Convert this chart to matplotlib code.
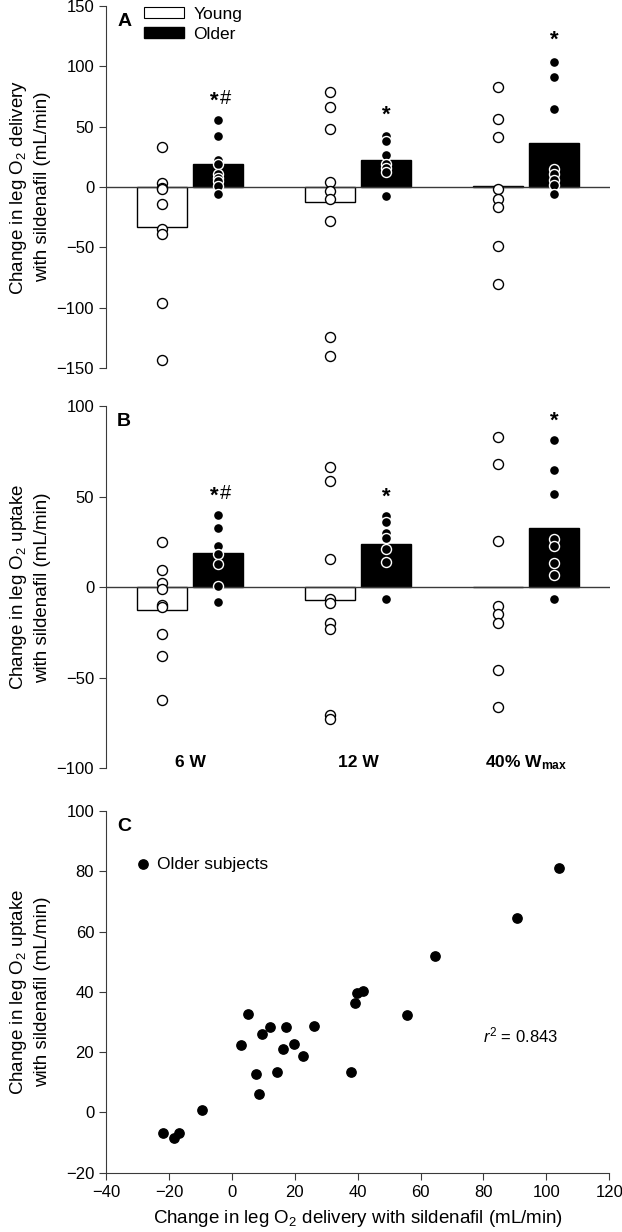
import matplotlib
matplotlib.use("Agg")
import matplotlib.pyplot as plt
from matplotlib.patches import Patch

plt.rcParams['font.family'] = ['Liberation Sans', 'DejaVu Sans']
plt.rcParams['mathtext.fontset'] = 'custom'
plt.rcParams['mathtext.rm'] = 'Liberation Sans'
plt.rcParams['mathtext.it'] = 'Liberation Sans:italic'
plt.rcParams['mathtext.bf'] = 'Liberation Sans:bold'

categories = ["6 W", "12 W", "40% W$_{\\mathbf{max}}$"]

# panel A: change in leg O2 delivery
a_young_bar = [-33, -12.3, 0.8]
a_older_bar = [18.7, 22.8, 36.4]
a_young_pts = [
    [33.3, 3.2, -0.4, -2, -14.2, -34.7, -38.6, -96, -143],
    [78.4, 66.5, 48.2, 4.2, -3.6, -9.9, -28, -124.5, -140],
    [82.5, 56.3, 41.1, -1.5, -10, -16.5, -48.5, -80.3],
]
a_older_pts = [
    [55.5, 42, 22.7, 19.4, 10.5, 7.8, 5, 0.8, -5.5],
    [42, 38, 26.5, 19, 15.8, 12.4, -7.7],
    [104, 90.8, 64.8, 14.6, 10.5, 6, 1.6, -5.5],
]
a_marks = ["*#", "*", "*"]
a_mark_y = [74.3, 63, 125]

# panel B: change in leg O2 uptake
b_young_bar = [-12.3, -7.2, 0.3]
b_older_bar = [19, 23.8, 32.6]
b_young_pts = [
    [25, 9.8, 2.2, -0.9, -9.6, -10.7, -25.6, -38.1, -62],
    [66.7, 58.6, 15.8, -6.4, -8.8, -19.7, -23, -70.7, -72.6],
    [83.2, 68.1, 25.4, -10.1, -14.7, -19.5, -45.9, -66.3],
]
b_older_pts = [
    [40.1, 32.6, 22.7, 18.2, 12.7, 0.9, -8.1],
    [39.6, 35.9, 30, 27.1, 21.4, 13.8, -6.6],
    [81.2, 64.6, 51.7, 26.5, 23, 13.6, 6.6, -6.6],
]
b_marks = ["*#", "*", "*"]
b_mark_y = [52.5, 51.8, 94]

# panel C: older subjects, delivery vs uptake
c_delivery = [-21.8, -18.4, -16.7, -9.4, 2.8, 5.3, 7.7, 8.6, 9.6, 12.2, 14.4, 16.3,
              17.1, 19.7, 22.5, 26.0, 37.8, 39.1, 39.7, 41.8, 55.7, 64.5, 90.8, 103.9]
c_uptake = [-6.7, -8.4, -6.7, 0.7, 22.5, 32.5, 12.7, 6.2, 25.9, 28.4, 13.4, 21.1,
            28.5, 22.7, 18.8, 28.7, 13.5, 36.3, 39.5, 40.3, 32.4, 51.8, 64.6, 81.2]
r2 = 0.843

off = 0.167
bw = 0.30
gray = "#3a3a3a"
lblsize = 13.5
ticksize = 12


def sig_mark(ax, x, y, mark):
    # bold asterisk (nudged down so the glyph sits on y), plain hash next to it
    if mark == "*":
        ax.annotate("*", (x, y), xytext=(0, -3), textcoords="offset points",
                    ha="center", va="center", fontsize=16, fontweight="bold", zorder=4)
    else:
        ax.annotate("*", (x, y), xytext=(0.5, -3), textcoords="offset points",
                    ha="right", va="center", fontsize=16, fontweight="bold", zorder=4)
        ax.annotate("#", (x, y), xytext=(1, -1), textcoords="offset points",
                    ha="left", va="center", fontsize=14.5, zorder=4)


def bar_panel(ax, young_bar, older_bar, young_pts, older_pts, marks, mark_y, ylim, yticks, ylabel, letter):
    xs = range(len(categories))
    ax.bar([i - off for i in xs], young_bar, bw, color="white", edgecolor="black", linewidth=1, zorder=1)
    ax.bar([i + off for i in xs], older_bar, bw, color="black", edgecolor="black", linewidth=1, zorder=1)
    ax.axhline(0, color=gray, lw=1, zorder=2)
    for i in xs:
        ax.scatter([i - off] * len(young_pts[i]), young_pts[i], s=52, facecolor="white",
                   edgecolor="black", linewidth=1.0, zorder=3)
        ax.scatter([i + off] * len(older_pts[i]), older_pts[i], s=52, facecolor="black",
                   edgecolor="white", linewidth=1.0, zorder=3)
        sig_mark(ax, i + off, mark_y[i], marks[i])
    ax.set_xlim(-0.5, 2.5)
    ax.set_ylim(*ylim)
    ax.set_yticks(yticks)
    ax.set_xticks([])
    for s in ["top", "right", "bottom"]:
        ax.spines[s].set_visible(False)
    ax.spines["left"].set_color(gray)
    ax.tick_params(axis="y", direction="out", length=5, color=gray, labelsize=ticksize)
    ax.set_ylabel(ylabel, fontsize=lblsize, linespacing=1.35)
    ax.yaxis.set_label_coords(-0.11, 0.5)
    ax.text(0.022, 0.958, letter, transform=ax.transAxes, fontsize=14, fontweight="bold", va="center")


fig = plt.figure(figsize=(6.22, 12.32), dpi=100)
ax1 = fig.add_axes([0.1704, 0.7013, 0.8103, 0.2938])
ax2 = fig.add_axes([0.1704, 0.3764, 0.8103, 0.2938])
ax3 = fig.add_axes([0.1704, 0.0481, 0.8092, 0.2936])

bar_panel(ax1, a_young_bar, a_older_bar, a_young_pts, a_older_pts, a_marks, a_mark_y,
          (-150, 150), range(-150, 151, 50),
          "Change in leg O$_2$ delivery\nwith sildenafil (mL/min)", "A")
ax1.legend(handles=[Patch(facecolor="white", edgecolor="black", linewidth=0.8, label="Young"),
                    Patch(facecolor="black", edgecolor="black", label="Older")],
           loc="upper left", bbox_to_anchor=(0.075, 0.998), borderaxespad=0, borderpad=0,
           handlelength=2.3, handleheight=0.6, handletextpad=0.55, labelspacing=0.3,
           frameon=False, fontsize=12.5)

bar_panel(ax2, b_young_bar, b_older_bar, b_young_pts, b_older_pts, b_marks, b_mark_y,
          (-100, 100), range(-100, 101, 50),
          "Change in leg O$_2$ uptake\nwith sildenafil (mL/min)", "B")
for i, c in enumerate(categories):
    ax2.text(i, -97, c, ha="center", va="center", fontsize=12.5, fontweight="bold")

# panel C
ax3.scatter(c_delivery, c_uptake, s=45, color="black", label="Older subjects", zorder=3)
ax3.set_xlim(-40, 120)
ax3.set_ylim(-20, 100)
ax3.set_xticks(range(-40, 121, 20))
ax3.set_yticks(range(-20, 101, 20))
for s in ["top", "right"]:
    ax3.spines[s].set_visible(False)
ax3.spines["left"].set_color(gray)
ax3.spines["bottom"].set_color(gray)
ax3.tick_params(direction="out", length=5, color=gray, labelsize=ticksize)
ax3.set_ylabel("Change in leg O$_2$ uptake\nwith sildenafil (mL/min)", fontsize=lblsize, linespacing=1.35)
ax3.yaxis.set_label_coords(-0.11, 0.5)
ax3.set_xlabel("Change in leg O$_2$ delivery with sildenafil (mL/min)", fontsize=lblsize, labelpad=6)
ax3.text(0.022, 0.958, "C", transform=ax3.transAxes, fontsize=14, fontweight="bold", va="center")
ax3.text(79.8, 25.4, "$r^2$ = %.3f" % r2, fontsize=12, va="center")
ax3.legend(loc="center left", bbox_to_anchor=(0.059, 0.853), borderaxespad=0, borderpad=0,
           handlelength=0.8, handletextpad=0.4, frameon=False, fontsize=12.5)

fig.savefig("out.png", dpi=100)
